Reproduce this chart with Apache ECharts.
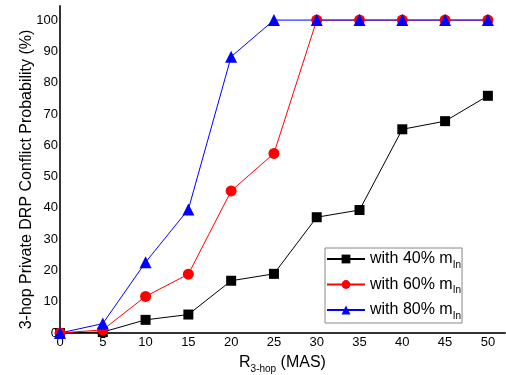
<!DOCTYPE html>
<html><head><meta charset="utf-8">
<script src="https://cdn.jsdelivr.net/npm/echarts@6/dist/echarts.min.js"></script>
<style>html,body{margin:0;padding:0;background:#fff}#c{width:506px;height:375px}</style>
</head><body><div id="c"></div>
<script>
const xValues = [0, 5, 10, 15, 20, 25, 30, 35, 40, 45, 50];
const with40 = [0, 0.3, 4.2, 5.9, 16.7, 18.9, 37, 39.3, 65.1, 67.7, 75.8];
const with60 = [0, 1.0, 11.7, 18.8, 45.4, 57.4, 100, 100, 100, 100, 100];
const with80 = [0, 3.0, 22.6, 39.5, 88.3, 100, 100, 100, 100, 100, 100];
const seriesNames = ['with 40% m{sub|In}', 'with 60% m{sub|In}', 'with 80% m{sub|In}'];

const font = 'Liberation Sans, Arial, sans-serif';
const pair = arr => xValues.map((x, i) => [x, arr[i]]);
const chart = echarts.init(document.getElementById('c'));
chart.setOption({
  animation: false,
  grid: {left: 60, right: 1, top: 6, bottom: 42, outerBoundsMode: 'none', containLabel: false},
  xAxis: {
    type: 'value', min: 0, max: 52, interval: 5,
    axisLine: {lineStyle: {color: '#333', width: 2}},
    axisTick: {show: false},
    splitLine: {show: false},
    axisLabel: {color: '#000', fontFamily: font, fontSize: 13, margin: 3,
      formatter: v => (v % 5 === 0 ? String(v) : '')},
    name: 'R{sub|3-hop} (MAS)', nameLocation: 'middle', nameGap: 18, nameMoveOverlap: false,
    nameTextStyle: {color: '#000', fontFamily: font, fontSize: 16,
      rich: {sub: {fontSize: 10, fontFamily: font, color: '#000', verticalAlign: 'bottom', padding: [13, 0, 0, 0]}}}
  },
  yAxis: {
    type: 'value', min: 0, max: 104.5, interval: 10,
    axisLine: {show: true, lineStyle: {color: '#333', width: 2}},
    axisTick: {show: false},
    splitLine: {show: false},
    axisLabel: {color: '#000', fontFamily: font, fontSize: 13, margin: 2,
      formatter: v => (v % 10 === 0 ? String(v) : '')},
    name: '3-hop Private DRP Conflict Probability (%)', nameLocation: 'middle', nameGap: 25, nameMoveOverlap: false,
    nameTextStyle: {color: '#000', fontFamily: font, fontSize: 16, padding: [0, 20, 0, 0]}
  },
  legend: {
    orient: 'vertical', left: 325, top: 248,
    borderColor: '#888', borderWidth: 1, padding: [3, 1, 2, 1],
    itemWidth: 38, itemHeight: 11, itemGap: 6.5,
    textStyle: {color: '#000', fontFamily: font, fontSize: 16,
      rich: {sub: {fontSize: 10, fontFamily: font, color: '#000', verticalAlign: 'bottom', padding: [12, 0, 0, 0]}}},
    data: seriesNames
  },
  series: [
    {name: seriesNames[0], type: 'line', data: pair(with40), symbol: 'rect', symbolSize: 10,
      lineStyle: {color: '#000', width: 1}, itemStyle: {color: '#000'}},
    {name: seriesNames[1], type: 'line', data: pair(with60), symbol: 'circle', symbolSize: 11,
      lineStyle: {color: '#ff0000', width: 1}, itemStyle: {color: '#ff0000'}},
    {name: seriesNames[2], type: 'line', data: pair(with80), symbol: 'triangle', symbolSize: 12,
      lineStyle: {color: '#0000ff', width: 1}, itemStyle: {color: '#0000ff'}}
  ]
});
</script></body></html>
